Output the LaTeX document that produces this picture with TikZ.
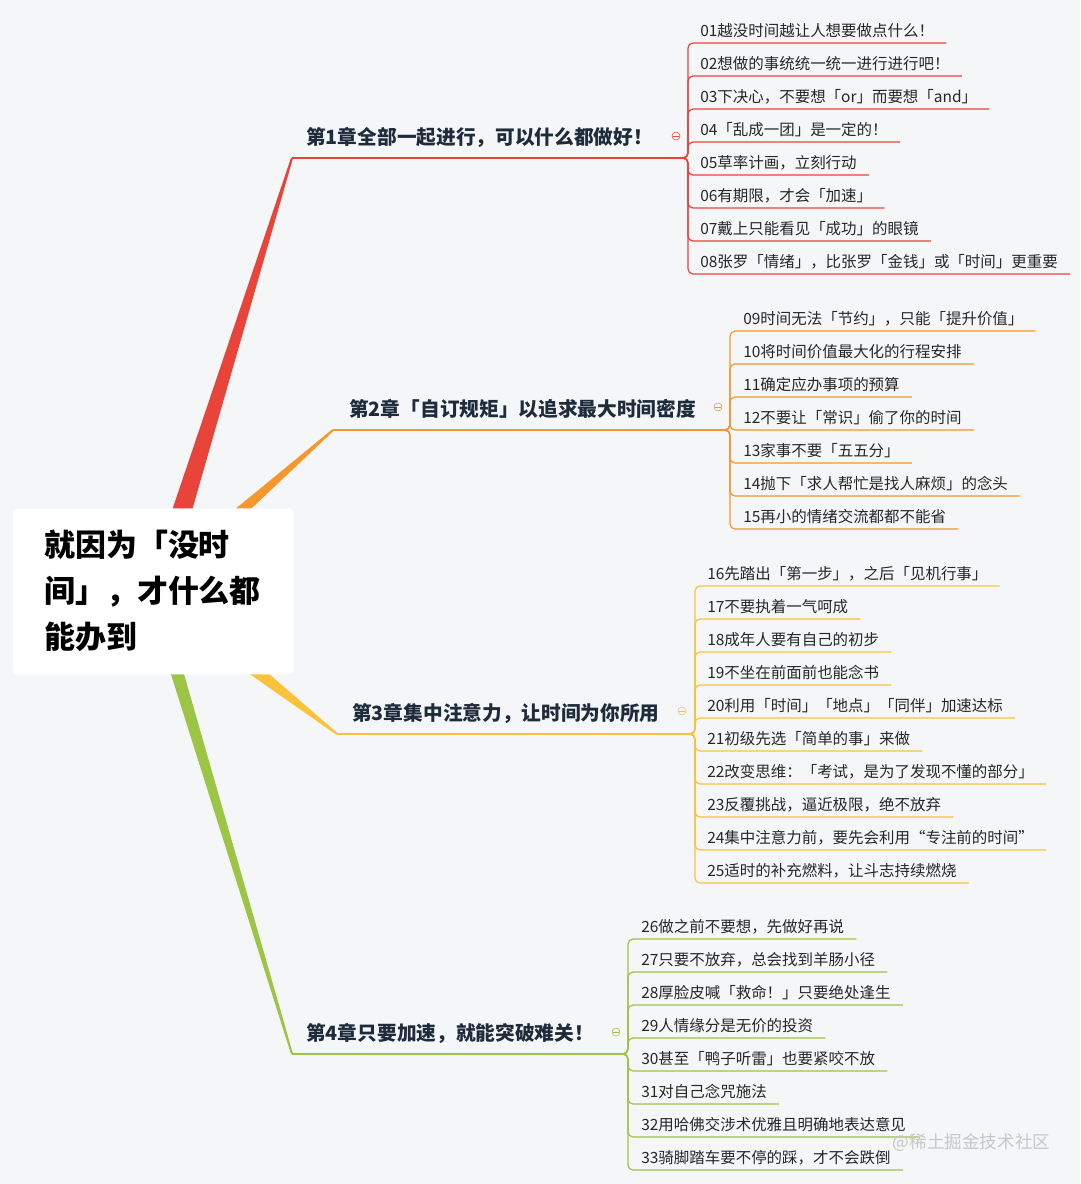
\documentclass[tikz,border=0pt]{standalone}
\usepackage{fontspec}
\setmainfont{Noto Sans CJK SC}
\usetikzlibrary{calc}
\definecolor{paperCS}{HTML}{F5F6F8}
\definecolor{branchRed}{HTML}{E9443A}
\definecolor{branchOrange}{HTML}{F6972C}
\definecolor{branchYellow}{HTML}{FBC23A}
\definecolor{branchGreen}{HTML}{9CC445}
\definecolor{HeadNavy}{HTML}{1D2B3B}
\colorlet{LeafInk}{black!85}
\colorlet{MarkInk}{black!22}

\begin{document}
\begin{tikzpicture}[x=0.025cm,y=-0.025cm,
    rootbox/.style={fill=white,rounded corners=1mm,inner xsep=0.775cm,inner ysep=0pt,
      minimum width=6.95cm,minimum height=4.15cm,align=left,text width=5.45cm,
      font=\fontsize{22}{32.7}\selectfont\bfseries},
    chapter/.style={anchor=base west,inner sep=0pt,text=HeadNavy,
      font=\fontsize{14}{16}\selectfont\bfseries},
    leaf/.style={anchor=base west,inner sep=0pt,text=LeafInk,
      font=\fontsize{11}{13}\selectfont},
    stem/.style={line width=1.07pt},
    twig/.style={line width=0.85pt,rounded corners=1.25mm},
    fold/.style={circle,draw=#1,line width=0.4pt,minimum size=0.2cm,inner sep=0pt,
      path picture={\draw[#1,line width=0.4pt]
        ([xshift=1pt]path picture bounding box.west) --
        ([xshift=-1pt]path picture bounding box.east);}}]

  % page
  \path[use as bounding box,fill=paperCS] (0,0) rectangle (1080,1184);

  % main branches (tapered)
  \coordinate (s1) at (171,546);  \coordinate (b1) at (292,158);  \coordinate (j1) at (682,158);
  \coordinate (s2) at (215,534);  \coordinate (b2) at (333,430);  \coordinate (j2) at (724,430);
  \coordinate (s3) at (228,649);  \coordinate (b3) at (337,734);  \coordinate (j3) at (689,734);
  \coordinate (s4) at (166,636);  \coordinate (b4) at (292,1054); \coordinate (j4) at (622,1054);
  \foreach \s/\b/\c/\w in {s1/b1/branchRed/0.26cm,s2/b2/branchOrange/0.16cm,
                           s3/b3/branchYellow/0.2cm,s4/b4/branchGreen/0.17cm}
    \fill[\c] ($(\s)!\w!90:(\b)$) -- ($(\b)!0.025cm!-90:(\s)$)
      -- ($(\b)!0.025cm!90:(\s)$) -- ($(\s)!\w!-90:(\b)$) -- cycle;

  \node[rootbox,anchor=north west] (root) at (13,508) {就因为「没时\\间」，才什么都\\能办到};

  % chapters
  \draw[stem,branchRed] (b1) -- (j1);
  \draw[stem,branchOrange] (b2) -- (j2);
  \draw[stem,branchYellow] (b3) -- (j3);
  \draw[stem,branchGreen] (b4) -- (j4);
  \node[chapter] (ch1) at ($(b1)+(14,-13.5)$) {第1章全部一起进行，可以什么都做好！};
  \node[chapter] (ch2) at ($(b2)+(16,-13.5)$) {第2章「自订规矩」以追求最大时间密度};
  \node[chapter] (ch3) at ($(b3)+(15,-13.5)$) {第3章集中注意力，让时间为你所用};
  \node[chapter] (ch4) at ($(b4)+(14,-13.5)$) {第4章只要加速，就能突破难关！};
  \node[fold=branchRed] (fold1) at ($(j1)+(-6,-22)$) {};
  \node[fold=branchOrange] (fold2) at ($(j2)+(-6,-23)$) {};
  \node[fold=branchYellow] (fold3) at ($(j3)+(-7,-23)$) {};
  \node[fold=branchGreen] (fold4) at ($(j4)+(-6,-22)$) {};

  % leaves
  \foreach \idx/\txt [count=\k from 0] in {01/越没时间越让人想要做点什么！,02/想做的事统统一统一进行进行吧！,
      03/下决心，不要想「or」而要想「and」,04/「乱成一团」是一定的！,05/草率计画，立刻行动,
      06/有期限，才会「加速」,07/戴上只能看见「成功」的眼镜,08/张罗「情绪」，比张罗「金钱」或「时间」更重要}{
    \node[leaf] (l\idx) at (700,{36+33*\k}) {\idx\txt};
    \draw[twig,branchRed] (j1) -- ++(6,0) |- ($(l\idx.base east)+(12,7)$);
  }
  \foreach \idx/\txt [count=\k from 0] in {09/时间无法「节约」，只能「提升价值」,10/将时间价值最大化的行程安排,
      11/确定应办事项的预算,12/不要让「常识」偷了你的时间,13/家事不要「五五分」,
      14/抛下「求人帮忙是找人麻烦」的念头,15/再小的情绪交流都都不能省}{
    \node[leaf] (l\idx) at (743,{324+33*\k}) {\idx\txt};
    \draw[twig,branchOrange] (j2) -- ++(6,0) |- ($(l\idx.base east)+(12,7)$);
  }
  \foreach \idx/\txt [count=\k from 0] in {16/先踏出「第一步」，之后「见机行事」,17/不要执着一气呵成,
      18/成年人要有自己的初步,19/不坐在前面前也能念书,20/利用「时间」「地点」「同伴」加速达标,
      21/初级先选「简单的事」来做,22/改变思维：「考试，是为了发现不懂的部分」,
      23/反覆挑战，逼近极限，绝不放弃,24/集中注意力前，要先会利用“专注前的时间”,
      25/适时的补充燃料，让斗志持续燃烧}{
    \node[leaf] (l\idx) at (707,{579+33*\k}) {\idx\txt};
    \draw[twig,branchYellow] (j3) -- ++(6,0) |- ($(l\idx.base east)+(12,7)$);
  }
  \foreach \idx/\txt [count=\k from 0] in {26/做之前不要想，先做好再说,27/只要不放弃，总会找到羊肠小径,
      28/厚脸皮喊「救命！」只要绝处逢生,29/人情缘分是无价的投资,30/甚至「鸭子听雷」也要紧咬不放,
      31/对自己念咒施法,32/用哈佛交涉术优雅且明确地表达意见,33/骑脚踏车要不停的踩，才不会跌倒}{
    \node[leaf] (l\idx) at (641,{932+33*\k}) {\idx\txt};
    \draw[twig,branchGreen] (j4) -- ++(6,0) |- ($(l\idx.base east)+(12,7)$);
  }

  \node[text=MarkInk,font=\fontsize{12.5}{14}\selectfont,anchor=west] (mark) at (888,1143) {@稀土掘金技术社区};
\end{tikzpicture}
\end{document}
